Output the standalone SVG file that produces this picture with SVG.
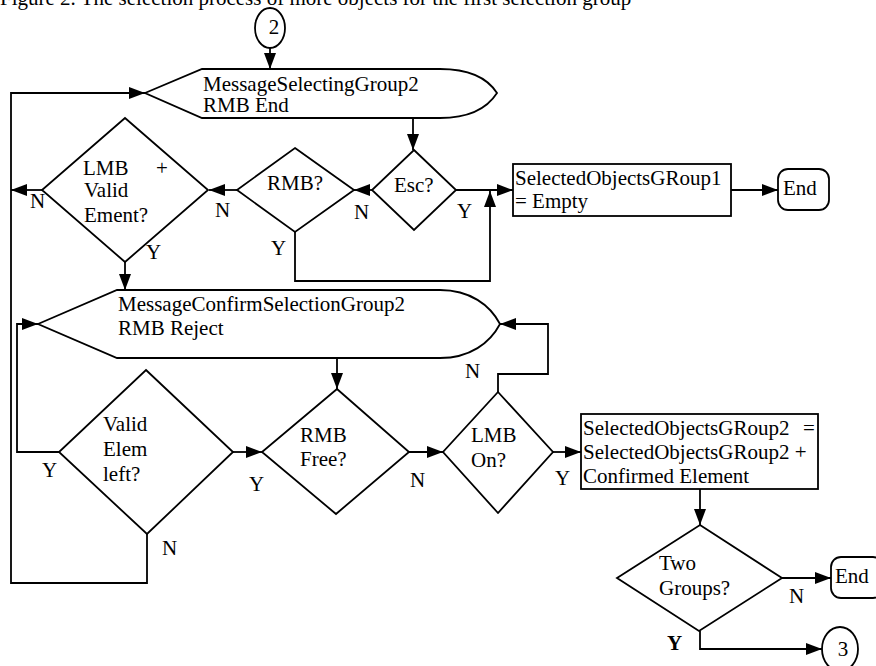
<svg xmlns="http://www.w3.org/2000/svg" width="876" height="666" viewBox="0 0 876 666">
<style>
text{font-family:"Liberation Serif","Times New Roman",serif;font-size:21px;fill:#000}
.s{fill:#fff;stroke:#000;stroke-width:1.8}
.c{fill:none;stroke:#000;stroke-width:1.8}
</style>
<defs>
<marker id="ah" markerUnits="userSpaceOnUse" markerWidth="17" markerHeight="13" refX="16" refY="6" orient="auto">
<path d="M0,0 L16,6 L0,12 Z" fill="#000"/>
</marker>
</defs>
<rect width="876" height="666" fill="#fff"/>
<text x="0" y="5">Figure 2. The selection process of more objects for the first selection group</text>

<g id="connectors">
<path class="c" d="M270,48 L270,69" marker-end="url(#ah)"/>
<path class="c" d="M413,118 L413,150" marker-end="url(#ah)"/>
<path class="c" d="M456,190 L513,190" marker-end="url(#ah)"/>
<path class="c" d="M372,190 L354,190" marker-end="url(#ah)"/>
<path class="c" d="M237,190 L209,190" marker-end="url(#ah)"/>
<path class="c" d="M295,232 L295,281 L490,281 L490,191" marker-end="url(#ah)"/>
<path class="c" d="M42,190 L11,190" marker-end="url(#ah)"/>
<path class="c" d="M125,262 L125,290" marker-end="url(#ah)"/>
<path class="c" d="M147,534 L147,583 L11,583 L11,93 L145,93" marker-end="url(#ah)"/>
<path class="c" d="M59,452 L17,452 L17,324 L38,324" marker-end="url(#ah)"/>
<path class="c" d="M337,358 L337,389" marker-end="url(#ah)"/>
<path class="c" d="M233,452 L262,452" marker-end="url(#ah)"/>
<path class="c" d="M409,452 L443,452" marker-end="url(#ah)"/>
<path class="c" d="M498,392 L498,374 L548,374 L548,324 L500,324" marker-end="url(#ah)"/>
<path class="c" d="M553,452 L581,452" marker-end="url(#ah)"/>
<path class="c" d="M731,190 L778,190" marker-end="url(#ah)"/>
<path class="c" d="M700,489 L700,525" marker-end="url(#ah)"/>
<path class="c" d="M782,578 L831,578" marker-end="url(#ah)"/>
<path class="c" d="M700,631 L700,649 L822,649" marker-end="url(#ah)"/>
</g>

<g id="labels">
<text x="457" y="218">Y</text>
<text x="354" y="219">N</text>
<text x="215" y="217">N</text>
<text x="30" y="208">N</text>
<text x="146" y="259">Y</text>
<text x="271" y="255">Y</text>
<text x="42" y="477">Y</text>
<text x="162" y="555">N</text>
<text x="249" y="491">Y</text>
<text x="410" y="487">N</text>
<text x="465" y="378">N</text>
<text x="555" y="485">Y</text>
<text x="789" y="603">N</text>
<text x="667" y="650" font-weight="bold">Y</text>
</g>

<g id="start2">
<ellipse class="s" cx="270" cy="28" rx="15" ry="20"/>
<text x="274" y="34" text-anchor="middle">2</text>
</g>

<g id="msgSelecting">
<path class="s" d="M145,93 L202,69 L440,69 C470,69 488,79 497,93 C488,107 470,118 440,118 L202,118 Z"/>
<text x="203" y="91">MessageSelectingGroup2</text>
<text x="203" y="112">RMB End</text>
</g>

<g id="esc">
<path class="s" d="M414,150 L456,190 L414,230 L372,190 Z"/>
<text x="394" y="192">Esc?</text>
</g>

<g id="rmb">
<path class="s" d="M295,148 L354,190 L295,232 L237,190 Z"/>
<text x="267" y="190">RMB?</text>
</g>

<g id="lmbValid">
<path class="s" d="M125,118 L208,190 L125,262 L42,190 Z"/>
<text x="83" y="175">LMB<tspan x="156">+</tspan></text>
<text x="84" y="197">Valid</text>
<text x="84" y="222">Ement?</text>
</g>

<g id="group1Empty">
<rect class="s" x="513" y="164" width="218" height="52"/>
<text x="515" y="185">SelectedObjectsGRoup1</text>
<text x="515" y="208">= Empty</text>
</g>

<g id="end1">
<rect class="s" x="778" y="169" width="51" height="41" rx="10"/>
<text x="783" y="195">End</text>
</g>

<g id="msgConfirm">
<path class="s" d="M38,324 L117,290 L440,290 C470,290 490,305 500,324 C490,343 470,358 440,358 L117,358 Z"/>
<text x="118" y="311">MessageConfirmSelectionGroup2</text>
<text x="118" y="335">RMB Reject</text>
</g>

<g id="validLeft">
<path class="s" d="M146,370 L233,452 L147,534 L59,452 Z"/>
<text x="103" y="431">Valid</text>
<text x="103" y="456">Elem</text>
<text x="103" y="481">left?</text>
</g>

<g id="rmbFree">
<path class="s" d="M337,389 L409,452 L336,514 L262,452 Z"/>
<text x="300" y="442">RMB</text>
<text x="300" y="466">Free?</text>
</g>

<g id="lmbOn">
<path class="s" d="M498,392 L553,452 L498,513 L443,452 Z"/>
<text x="471" y="442">LMB</text>
<text x="471" y="467">On?</text>
</g>

<g id="group2Add">
<rect class="s" x="581" y="414" width="237" height="75"/>
<text x="583" y="435">SelectedObjectsGRoup2<tspan x="803">=</tspan></text>
<text x="583" y="459">SelectedObjectsGRoup2 +</text>
<text x="583" y="483">Confirmed Element</text>
</g>

<g id="twoGroups">
<path class="s" d="M700,525 L782,578 L699,631 L617,578 Z"/>
<text x="659" y="570">Two</text>
<text x="659" y="595">Groups?</text>
</g>

<g id="end2">
<rect class="s" x="831" y="557" width="52" height="41" rx="10"/>
<text x="835" y="583">End</text>
</g>

<g id="next3">
<ellipse class="s" cx="840" cy="649" rx="18" ry="22"/>
<text x="843" y="656" text-anchor="middle">3</text>
</g>
</svg>
